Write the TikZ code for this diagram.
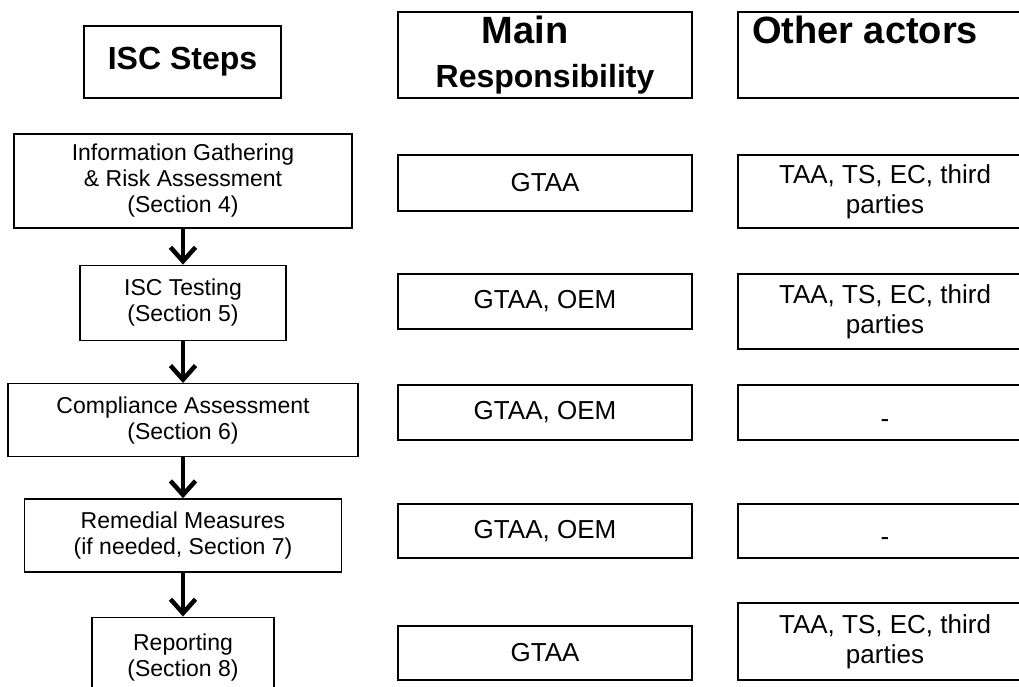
\documentclass[tikz,border=0pt]{standalone}
\usepackage{fontspec}
\setmainfont{Liberation Sans}
\usetikzlibrary{arrows.meta}
\usetikzlibrary{positioning}

\tikzset{
  stepbox/.style={draw, line width=1.3pt, align=center, inner sep=2pt,
    font=\fontsize{23}{26}\selectfont},
  rolebox/.style={stepbox, minimum width=294pt, font=\fontsize{26}{30}\selectfont},
  nonebox/.style={rolebox, text height=29pt},
  headbox/.style={draw, line width=1.3pt, align=center, inner sep=2pt,
    font=\bfseries\fontsize{38}{44}\selectfont},
  flow/.style={line width=4.5pt, -{Straight Barb[length=14pt,width=25pt]}}
}

\begin{document}
\begin{tikzpicture}[x=1pt,y=-1pt]
    \useasboundingbox (0,0) rectangle (1019,686);

    % column heads
    \node[headbox, font=\bfseries\fontsize{32}{38}\selectfont, minimum width=197pt, minimum height=72pt]
      (hsteps) at (182.5,62) {ISC Steps};
    \node[headbox, minimum width=294pt, minimum height=86pt] (hmain) at (545,55)
      {Main\hspace*{40pt}\\{\fontsize{32}{44}\selectfont Responsibility}};
    \node[headbox, minimum width=294pt, minimum height=86pt] (hother) at (885,55)
      {Other actors\hspace*{40pt}\\[6pt]~};

    % ISC steps
    \node[stepbox, minimum width=338pt, minimum height=94pt] (info) at (183,181)
      {Information Gathering\\\& Risk Assessment\\(Section 4)};
    \node[stepbox, below=36pt of info, minimum width=206pt, minimum height=75pt] (test)
      {ISC Testing\\(Section 5)};
    \node[stepbox, below=42pt of test, minimum width=350pt, minimum height=73pt] (comp)
      {Compliance Assessment\\(Section 6)};
    \node[stepbox, below=41pt of comp, minimum width=317pt, minimum height=73pt] (remed)
      {Remedial Measures\\(if needed, Section 7)};
    \node[stepbox, below=44pt of remed, minimum width=182pt, minimum height=80pt] (report)
      {Reporting\\(Section 8)};

    \draw[flow] (info) -- (test);
    \draw[flow] (test) -- (comp);
    \draw[flow] (comp) -- (remed);
    \draw[flow] (remed) -- (report);

    % main responsibility
    \node[rolebox, minimum height=56pt] (main1) at (545,183) {GTAA};
    \node[rolebox, minimum height=55pt] (main2) at (545,301.5) {GTAA, OEM};
    \node[rolebox, minimum height=55pt] (main3) at (545,412.5) {GTAA, OEM};
    \node[rolebox, minimum height=54pt] (main4) at (545,531) {GTAA, OEM};
    \node[rolebox, minimum height=54pt] (main5) at (545,653) {GTAA};

    % other actors
    \node[rolebox, minimum height=73pt] (other1) at (885,191.5) {TAA, TS, EC, third\\parties};
    \node[rolebox, minimum height=75pt] (other2) at (885,311.5) {TAA, TS, EC, third\\parties};
    \node[nonebox, minimum height=55pt] (other3) at (885,412.5) {-};
    \node[nonebox, minimum height=54pt] (other4) at (885,531) {-};
    \node[rolebox, minimum height=77pt] (other5) at (885,641.5) {TAA, TS, EC, third\\parties};
\end{tikzpicture}
\end{document}
